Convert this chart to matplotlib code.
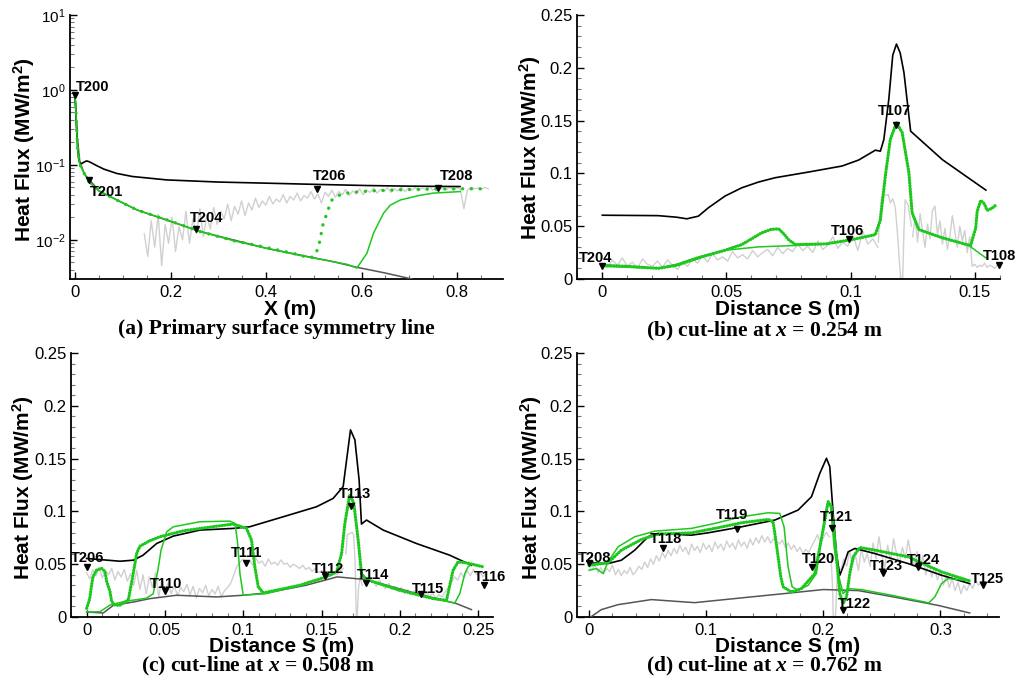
import matplotlib
matplotlib.use('Agg')
import matplotlib.pyplot as plt
import numpy as np
from matplotlib.ticker import MultipleLocator, FuncFormatter, LogLocator

plt.rcParams['font.family'] = ['Liberation Sans', 'DejaVu Sans']
plt.rcParams['mathtext.fontset'] = 'custom'
plt.rcParams['mathtext.rm'] = 'Liberation Serif:bold'
plt.rcParams['mathtext.it'] = 'Liberation Serif:italic:bold'
plt.rcParams['mathtext.sf'] = 'Liberation Sans:bold'

# ---------------- (a) primary surface symmetry line ----------------
a_turb_x = [0, 0.002, 0.004, 0.006, 0.009, 0.013, 0.018, 0.024, 0.03, 0.045, 0.06, 0.087, 0.12, 0.192, 0.3, 0.401, 0.5, 0.611, 0.7, 0.806]
a_turb_y = [0.85, 0.5, 0.25, 0.15, 0.11, 0.103, 0.108, 0.113, 0.11, 0.098, 0.088, 0.077, 0.07, 0.063, 0.059, 0.057, 0.055, 0.053, 0.052, 0.0514]
a_lam_x = [0, 0.004, 0.01, 0.02, 0.05, 0.13, 0.262, 0.401, 0.541, 0.59, 0.65, 0.705]
a_lam_y = [0.85, 0.25, 0.11, 0.075, 0.045, 0.025, 0.0129, 0.0077, 0.0051, 0.0043, 0.0036, 0.0030]
a_tr1_x = [0, 0.002, 0.004, 0.006, 0.009, 0.012, 0.02, 0.03, 0.05, 0.087, 0.13, 0.192, 0.262, 0.33, 0.401, 0.47, 0.541, 0.57, 0.59,
           0.611, 0.625, 0.646, 0.66, 0.681, 0.72, 0.75, 0.806]
a_tr1_y = [0.85, 0.5, 0.25, 0.15, 0.11, 0.095, 0.075, 0.058, 0.045, 0.034, 0.025, 0.0185, 0.0129, 0.0098, 0.0077, 0.0062, 0.0051, 0.0047, 0.0042,
           0.0066, 0.0123, 0.0227, 0.029, 0.034, 0.039, 0.042, 0.044]
a_tr2_x = [0, 0.002, 0.004, 0.006, 0.009, 0.012, 0.02, 0.03, 0.05, 0.087, 0.13, 0.192, 0.262, 0.33, 0.401, 0.47, 0.49, 0.50, 0.505,
           0.51, 0.519, 0.531, 0.538, 0.548, 0.56, 0.58, 0.62, 0.7, 0.8, 0.862]
a_tr2_y = [0.85, 0.5, 0.25, 0.15, 0.11, 0.095, 0.075, 0.058, 0.045, 0.034, 0.025, 0.0185, 0.0129, 0.0098, 0.0079, 0.0063, 0.0057, 0.0060, 0.0068,
           0.0081, 0.0158, 0.0264, 0.034, 0.038, 0.041, 0.043, 0.045, 0.047, 0.048, 0.048]
a_exp_x0, a_exp_x1 = 0.145, 0.865
a_exp_y = [0.012, 0.006, 0.018, 0.008, 0.022, 0.0045, 0.016, 0.009, 0.020, 0.007,
           0.015, 0.010, 0.024, 0.009, 0.019, 0.012, 0.026, 0.011, 0.021, 0.014,
           0.027, 0.016, 0.024, 0.019, 0.030, 0.018, 0.028, 0.022, 0.033, 0.021,
           0.031, 0.025, 0.036, 0.027, 0.033, 0.029, 0.038, 0.030, 0.035, 0.032,
           0.040, 0.031, 0.038, 0.034, 0.042, 0.033, 0.039, 0.036, 0.044, 0.035,
           0.041, 0.031, 0.043, 0.038, 0.046, 0.037, 0.044, 0.040, 0.047, 0.039,
           0.045, 0.041, 0.048, 0.040, 0.046, 0.043, 0.049, 0.042, 0.047, 0.044,
           0.050, 0.043, 0.048, 0.045, 0.051, 0.044, 0.049, 0.046, 0.050, 0.045,
           0.049, 0.047, 0.052, 0.046, 0.050, 0.047, 0.049, 0.047, 0.051, 0.046,
           0.050, 0.047, 0.026, 0.046, 0.050, 0.048, 0.049, 0.047, 0.050, 0.048]
a_tc = ['T200', 'T201', 'T204', 'T206', 'T208']
a_tc_x = [0, 0.030, 0.253, 0.506, 0.760]
a_tc_y = [0.86, 0.063, 0.0139, 0.048, 0.0498]

# ---------------- (b) cut-line x = 0.254 m ----------------
b_turb_x = [0, 0.0225, 0.03, 0.034, 0.0387, 0.0427, 0.0494, 0.0562, 0.0629, 0.0696, 0.0831, 0.0966, 0.1033, 0.11, 0.112, 0.1134, 0.1154,
            0.117, 0.1185, 0.12, 0.1215, 0.1242, 0.137, 0.1464, 0.1545]
b_turb_y = [0.0604, 0.060, 0.0585, 0.057, 0.0595, 0.0674, 0.0785, 0.0864, 0.0918, 0.0959, 0.1013, 0.107, 0.1127, 0.122, 0.121, 0.132, 0.170,
            0.212, 0.2225, 0.214, 0.1956, 0.140, 0.113, 0.0975, 0.0842]
b_tr1_x = [0, 0.0225, 0.03, 0.0387, 0.0494, 0.0629, 0.0763, 0.0898, 0.1006, 0.11, 0.112, 0.114, 0.116, 0.1185, 0.1208, 0.1235, 0.1248, 0.1275, 0.137, 0.1477, 0.1545]
b_tr1_y = [0.012, 0.0101, 0.014, 0.0209, 0.0272, 0.0304, 0.0316, 0.0332, 0.0373, 0.042, 0.056, 0.0975, 0.132, 0.1465, 0.1386, 0.1006, 0.0627, 0.0468, 0.039, 0.0316, 0.020]
b_tr2_x = [0, 0.01, 0.0225, 0.03, 0.04, 0.0494, 0.0562, 0.0642, 0.068, 0.071, 0.073, 0.075, 0.0777, 0.09, 0.1006, 0.11, 0.112, 0.114, 0.116, 0.1185,
           0.1208, 0.1235, 0.1248, 0.1275, 0.137, 0.1484, 0.149, 0.1504, 0.151, 0.1524, 0.1538, 0.155, 0.157, 0.159]
b_tr2_y = [0.013, 0.012, 0.0101, 0.013, 0.0209, 0.0272, 0.0326, 0.0437, 0.047, 0.0475, 0.043, 0.0373, 0.0326, 0.0332, 0.0373, 0.042, 0.056, 0.0975, 0.132, 0.148,
           0.1386, 0.1006, 0.0627, 0.0468, 0.039, 0.0316, 0.037, 0.048, 0.064, 0.0744, 0.0715, 0.065, 0.067, 0.071]
b_exp1_x0, b_exp1_x1 = 0.0, 0.111
b_exp1_y = [0.015, 0.011, 0.018, 0.013, 0.020, 0.012, 0.016, 0.010, 0.019, 0.014,
            0.012, 0.017, 0.011, 0.018, 0.013, 0.009, 0.016, 0.012, 0.019, 0.015,
            0.022, 0.016, 0.024, 0.018, 0.021, 0.017, 0.026, 0.020, 0.023, 0.019,
            0.027, 0.021, 0.025, 0.028, 0.022, 0.030, 0.024, 0.029, 0.026, 0.033,
            0.027, 0.031, 0.025, 0.036, 0.028, 0.032, 0.040, 0.029, 0.035, 0.031,
            0.042, 0.027, 0.045, 0.033, 0.038, 0.030]
b_exp2_x = [0.1112, 0.1118, 0.1125, 0.114, 0.1152, 0.1160, 0.1170, 0.1180, 0.1190, 0.1198, 0.1203, 0.1210, 0.1215, 0.1220, 0.1232, 0.1245]
b_exp2_y = [0.035, 0.060, 0.078, 0.079, 0.080, 0.072, 0.076, 0.068, 0.040, 0.012, 0.0, 0.0, 0.045, 0.075, 0.070, 0.050]
b_exp3_x0, b_exp3_x1 = 0.125, 0.160
b_exp3_y = [0.040, 0.058, 0.035, 0.062, 0.045, 0.030, 0.052, 0.038, 0.065, 0.069, 0.042, 0.055, 0.033, 0.048, 0.028, 0.040, 0.060, 0.045,
            0.030, 0.050, 0.036, 0.046, 0.025, 0.040, 0.012, 0.014, 0.011, 0.013, 0.012, 0.015, 0.011, 0.013, 0.012, 0.010, 0.013, 0.012]
b_tc = ['T204', 'T106', 'T107', 'T108']
b_tc_x = [0, 0.0995, 0.1185, 0.1596]
b_tc_y = [0.0127, 0.038, 0.146, 0.013]

# ---------------- (c) cut-line x = 0.508 m ----------------
c_turb_x = [0, 0.0085, 0.0213, 0.0298, 0.036, 0.0447, 0.0553, 0.0723, 0.0936, 0.104, 0.1255, 0.1468, 0.1574, 0.1638, 0.166, 0.1685, 0.1713, 0.174, 0.1755,
            0.1787, 0.1894, 0.2106, 0.2319, 0.2457]
c_turb_y = [0.0554, 0.0544, 0.0528, 0.0538, 0.0585, 0.0696, 0.0766, 0.0823, 0.0839, 0.0854, 0.0949, 0.1044, 0.1123, 0.1234, 0.1487, 0.1772, 0.1677, 0.1297, 0.088,
            0.0918, 0.0823, 0.0696, 0.0585, 0.049]
c_lam_x = [0, 0.0106, 0.017, 0.0298, 0.0404, 0.0574, 0.083, 0.1, 0.1149, 0.14, 0.16, 0.1787, 0.2106, 0.2362, 0.2457]
c_lam_y = [0.0047, 0.0038, 0.011, 0.0142, 0.0174, 0.0206, 0.019, 0.0206, 0.0228, 0.030, 0.038, 0.0354, 0.0222, 0.0127, 0.007]
c_tr1_x = [0, 0.0085, 0.015, 0.025, 0.038, 0.0425, 0.0455, 0.0475, 0.0511, 0.0553, 0.0723, 0.0915, 0.0947, 0.0962, 0.0979, 0.1, 0.1149, 0.136, 0.153,
           0.1596, 0.1628, 0.1649, 0.168, 0.1706, 0.1734, 0.1755, 0.1787, 0.2, 0.2213, 0.2351, 0.2383, 0.2415, 0.2436, 0.2457]
c_tr1_y = [0.0047, 0.0050, 0.0114, 0.015, 0.0177, 0.022, 0.0443, 0.0633, 0.0807, 0.0854, 0.0902, 0.0908, 0.0886, 0.0728, 0.0411, 0.0206, 0.0222, 0.030, 0.038,
           0.0427, 0.060, 0.0886, 0.114, 0.1076, 0.0728, 0.0411, 0.0354, 0.0253, 0.0174, 0.0133, 0.0222, 0.0411, 0.0475, 0.050]
c_tr2_x = [0, 0.002, 0.003, 0.004, 0.0064, 0.0096, 0.0117, 0.0128, 0.0149, 0.016, 0.018, 0.021, 0.0266, 0.029, 0.032, 0.034, 0.04, 0.0468, 0.0617,
           0.083, 0.0936, 0.1021, 0.1053, 0.1074, 0.1096, 0.1128, 0.136, 0.153, 0.1596, 0.1628, 0.1649, 0.168, 0.1706, 0.1734, 0.1755, 0.1787,
           0.2, 0.2213, 0.2298, 0.2319, 0.234, 0.2372, 0.2426, 0.2532]
c_tr2_y = [0.0082, 0.0177, 0.0287, 0.038, 0.0445, 0.046, 0.043, 0.0335, 0.024, 0.0145, 0.0114, 0.011, 0.016, 0.035, 0.0605, 0.067, 0.072, 0.076, 0.0816,
           0.086, 0.088, 0.0839, 0.0728, 0.0475, 0.0285, 0.0228, 0.030, 0.038, 0.0427, 0.060, 0.0886, 0.116, 0.108, 0.0728, 0.0411, 0.0354,
           0.0253, 0.0174, 0.0158, 0.030, 0.0443, 0.0522, 0.0513, 0.0475]
c_exp1_x0, c_exp1_x1 = 0.0, 0.164
c_exp1_y = [0.042, 0.036, 0.045, 0.039, 0.047, 0.037, 0.044, 0.040, 0.046, 0.035,
            0.043, 0.038, 0.045, 0.034, 0.041, 0.030, 0.044, 0.026, 0.040, 0.022,
            0.038, 0.028, 0.042, 0.019, 0.035, 0.025, 0.032, 0.022, 0.030, 0.020,
            0.028, 0.024, 0.031, 0.021, 0.029, 0.018, 0.027, 0.023, 0.030, 0.020,
            0.026, 0.022, 0.029, 0.019, 0.025, 0.028, 0.032, 0.040, 0.048, 0.052,
            0.055, 0.050, 0.054, 0.049, 0.056, 0.051, 0.053, 0.048, 0.055, 0.050,
            0.052, 0.049, 0.054, 0.050, 0.051, 0.047, 0.050, 0.048, 0.046, 0.049,
            0.045, 0.047, 0.043, 0.046, 0.042, 0.044, 0.040, 0.043, 0.039, 0.042,
            0.040, 0.044, 0.046]
c_exp2_x = [0.1655, 0.1665, 0.168, 0.1695, 0.1705, 0.1715, 0.1722, 0.1728, 0.1735, 0.1745, 0.176]
c_exp2_y = [0.060, 0.078, 0.079, 0.080, 0.078, 0.050, 0.0, 0.0, 0.025, 0.038, 0.030]
c_exp3_x0, c_exp3_x1 = 0.177, 0.255
c_exp3_y = [0.036, 0.031, 0.038, 0.033, 0.029, 0.035, 0.030, 0.027, 0.032, 0.026,
            0.029, 0.024, 0.028, 0.022, 0.026, 0.021, 0.025, 0.020, 0.024, 0.019,
            0.023, 0.020, 0.022, 0.018, 0.021, 0.019, 0.024, 0.028, 0.033, 0.038,
            0.035, 0.042, 0.037, 0.044, 0.039, 0.045, 0.040, 0.043, 0.038, 0.041]
c_tc = ['T206', 'T110', 'T111', 'T112', 'T113', 'T114', 'T115', 'T116']
c_tc_x = [0, 0.05, 0.1015, 0.152, 0.169, 0.1787, 0.2132, 0.2536]
c_tc_y = [0.0475, 0.0247, 0.0513, 0.0386, 0.105, 0.0323, 0.0222, 0.030]

# ---------------- (d) cut-line x = 0.762 m ----------------
d_turb_x = [0, 0.0162, 0.0276, 0.039, 0.0504, 0.0589, 0.0874, 0.1016, 0.1301, 0.1586, 0.1785, 0.1899, 0.197, 0.2027, 0.2055, 0.2084, 0.2112, 0.2141,
            0.2169, 0.2212, 0.2269, 0.244, 0.2724, 0.3009, 0.325]
d_turb_y = [0.0513, 0.0506, 0.0538, 0.0633, 0.076, 0.0791, 0.0775, 0.0797, 0.0854, 0.0918, 0.1013, 0.1139, 0.136, 0.1503, 0.1424, 0.0981, 0.0601, 0.0396,
            0.0475, 0.0617, 0.0649, 0.0601, 0.0506, 0.0396, 0.0316]
d_lam_x = [0.0014, 0.0105, 0.0248, 0.0532, 0.0732, 0.0902, 0.1159, 0.1472, 0.167, 0.20, 0.23, 0.26, 0.298, 0.325]
d_lam_y = [0.0, 0.007, 0.0117, 0.0165, 0.0149, 0.0136, 0.0165, 0.020, 0.0222, 0.026, 0.025, 0.019, 0.011, 0.0038]
d_tr1_x = [0, 0.0063, 0.012, 0.0162, 0.0248, 0.039, 0.0561, 0.0874, 0.1073, 0.1301, 0.1529, 0.1628, 0.1665, 0.1699, 0.1734, 0.1785, 0.187, 0.1941,
           0.1998, 0.2035, 0.2064, 0.2092, 0.2126, 0.2169, 0.2212, 0.2326, 0.2582, 0.2866, 0.29, 0.2952, 0.3009, 0.3066, 0.325]
d_tr1_y = [0.0443, 0.0459, 0.0411, 0.0522, 0.0665, 0.076, 0.0813, 0.0839, 0.0886, 0.0949, 0.0987, 0.0981, 0.0854, 0.0475, 0.0285, 0.0253, 0.030, 0.0411,
           0.0854, 0.1076, 0.1044, 0.0665, 0.0411, 0.0222, 0.0269, 0.0259, 0.0206, 0.0142, 0.0133, 0.019, 0.0316, 0.0364, 0.0342]
d_tr2_x = [0, 0.0162, 0.0276, 0.0447, 0.0589, 0.0874, 0.1073, 0.1301, 0.1529, 0.1571, 0.1586, 0.1614, 0.1637, 0.1657, 0.1728, 0.1813, 0.1927, 0.1998,
           0.2041, 0.2069, 0.2112, 0.2141, 0.2169, 0.2198, 0.2226, 0.2255, 0.2311, 0.244, 0.2724, 0.3009, 0.325]
d_tr2_y = [0.049, 0.0513, 0.0633, 0.0734, 0.0785, 0.0797, 0.0839, 0.0892, 0.0924, 0.0902, 0.0791, 0.057, 0.038, 0.0285, 0.0237, 0.0269, 0.0411, 0.0823,
           0.1092, 0.1044, 0.057, 0.0222, 0.0127, 0.019, 0.0411, 0.057, 0.0658, 0.0633, 0.057, 0.0427, 0.0342]
d_exp1_x0, d_exp1_x1 = 0.0, 0.205
d_exp1_y = [0.048, 0.044, 0.050, 0.042, 0.047, 0.041, 0.046, 0.043, 0.049, 0.040,
            0.045, 0.039, 0.044, 0.041, 0.047, 0.040, 0.043, 0.048, 0.045, 0.052,
            0.047, 0.055, 0.050, 0.058, 0.053, 0.061, 0.056, 0.063, 0.058, 0.065,
            0.060, 0.068, 0.062, 0.066, 0.059, 0.069, 0.063, 0.067, 0.061, 0.070,
            0.064, 0.068, 0.062, 0.071, 0.065, 0.069, 0.063, 0.072, 0.066, 0.070,
            0.064, 0.073, 0.067, 0.071, 0.065, 0.074, 0.068, 0.075, 0.070, 0.077,
            0.071, 0.076, 0.070, 0.074, 0.072, 0.069, 0.073, 0.066, 0.070, 0.064,
            0.068, 0.062, 0.066, 0.060, 0.064, 0.061, 0.067, 0.072, 0.078, 0.070,
            0.075, 0.080, 0.076]
d_exp2_x = [0.2065, 0.2078, 0.2085, 0.2095, 0.2105, 0.2115, 0.2125, 0.2135]
d_exp2_y = [0.060, 0.030, 0.0, 0.0, 0.002, 0.030, 0.050, 0.042]
d_exp3_x0, d_exp3_x1 = 0.215, 0.335
d_exp3_y = [0.045, 0.055, 0.048, 0.062, 0.050, 0.058, 0.044, 0.065, 0.052, 0.060,
            0.048, 0.070, 0.055, 0.076, 0.058, 0.047, 0.068, 0.052, 0.074, 0.060,
            0.050, 0.066, 0.055, 0.073, 0.058, 0.048, 0.062, 0.045, 0.058, 0.040,
            0.052, 0.038, 0.047, 0.035, 0.044, 0.030, 0.040, 0.028, 0.036, 0.025,
            0.033, 0.022, 0.030, 0.025, 0.032, 0.027, 0.035, 0.030, 0.033]
d_tc = ['T208', 'T118', 'T119', 'T120', 'T121', 'T122', 'T123', 'T124', 'T125']
d_tc_x = [0, 0.0632, 0.1267, 0.1904, 0.207, 0.2169, 0.2511, 0.281, 0.3365]
d_tc_y = [0.0513, 0.0649, 0.083, 0.0475, 0.0845, 0.007, 0.0418, 0.0475, 0.030]

# ---------------- styling ----------------
GREEN = '#1ec81e'
BLACK = dict(color='black', lw=1.2, zorder=4)
LAM = dict(color='#555555', lw=1.1, zorder=3)
TR1 = dict(color=GREEN, lw=1.1, zorder=5)
EXP = dict(color='#d0d0d0', lw=1.0, zorder=2)

W, H = 1016, 679
fig = plt.figure(figsize=(W / 100, H / 100), dpi=100)


def make_ax(l, t, r, b):
    return fig.add_axes([l / W, 1 - b / H, (r - l) / W, (b - t) / H])


def style(ax, ysize=12):
    for s in ['top', 'right']:
        ax.spines[s].set_visible(False)
    for s in ['left', 'bottom']:
        ax.spines[s].set_linewidth(1.3)
    ax.tick_params(which='major', direction='in', length=5, width=1.0, labelsize=12, pad=3)
    ax.tick_params(which='minor', direction='in', length=3, width=0.8, color='#777777')
    ax.tick_params(axis='x', which='major', pad=4)
    ax.tick_params(axis='y', which='major', labelsize=ysize)


fmt = FuncFormatter(lambda v, p: '%g' % round(v, 6))


def dotted(ax, x, y, gap):
    ax.plot(x, y, color=GREEN, lw=2.4, ls=(0, (0.05, gap)), dash_capstyle='round', zorder=6)


def marks(ax, names, xs, ys, offs):
    ax.plot(xs, ys, 'v', color='black', ms=5, zorder=8, clip_on=False)
    for n, x, y, o in zip(names, xs, ys, offs):
        ax.annotate(n, (x, y), xytext=o, textcoords='offset points', ha='center', va='center',
                    fontsize=10.5, fontweight='bold', zorder=9)


def labels(xl, yl, cap, xlab):
    fig.text(yl[0] / W, 1 - yl[1] / H, r'Heat Flux (MW/m$^{\mathsf{2}}$)', rotation=90, ha='center', va='center',
             fontsize=15, fontweight='bold')
    fig.text(xl[0] / W, 1 - xl[1] / H, xlab, ha='center', va='center', fontsize=15, fontweight='bold')
    fig.text(cap[1] / W, 1 - cap[2] / H, cap[0], ha='center', va='center', fontsize=15.5,
             family='Liberation Serif', fontweight='bold')


# (a)
ax = make_ax(70, 15, 503, 279)
ax.plot(np.linspace(a_exp_x0, a_exp_x1, len(a_exp_y)), a_exp_y, **EXP)
ax.plot(a_lam_x, a_lam_y, **LAM)
ax.plot(a_turb_x, a_turb_y, **BLACK)
ax.plot(a_tr1_x, a_tr1_y, **TR1)
dotted(ax, a_tr2_x, a_tr2_y, 2.6)
ax.set_yscale('log')
ax.set_ylim(0.003, 10)
ax.set_xlim(-0.0105, 0.896)
ax.xaxis.set_major_locator(MultipleLocator(0.2))
ax.xaxis.set_minor_locator(MultipleLocator(0.05))
ax.xaxis.set_major_formatter(fmt)
ax.yaxis.set_minor_locator(LogLocator(subs=np.arange(2, 10)))
style(ax, ysize=11)
marks(ax, a_tc, a_tc_x, a_tc_y, [(13, 5.5), (12, -9), (7.7, 7.9), (9, 9.4), (13, 8.4)])
labels((290, 310), (24, 150), ('(a) Primary surface symmetry line', 276, 329), 'X (m)')

# (b)
ax = make_ax(577, 15, 1000, 279)
ax.plot(np.linspace(b_exp1_x0, b_exp1_x1, len(b_exp1_y)), b_exp1_y, **EXP)
ax.plot(b_exp2_x, b_exp2_y, **EXP)
ax.plot(np.linspace(b_exp3_x0, b_exp3_x1, len(b_exp3_y)), b_exp3_y, **EXP)
ax.plot(b_turb_x, b_turb_y, **BLACK)
ax.plot(b_tr1_x, b_tr1_y, **TR1)
dotted(ax, b_tr2_x, b_tr2_y, 0.8)
ax.set_ylim(0, 0.25)
ax.set_xlim(-0.0102, 0.1602)
ax.xaxis.set_major_locator(MultipleLocator(0.05))
ax.xaxis.set_minor_locator(MultipleLocator(0.01))
ax.yaxis.set_major_locator(MultipleLocator(0.05))
ax.yaxis.set_minor_locator(MultipleLocator(0.01))
ax.xaxis.set_major_formatter(fmt)
ax.yaxis.set_major_formatter(fmt)
style(ax)
marks(ax, b_tc, b_tc_x, b_tc_y, [(-4.6, 5.5), (-1.2, 6), (-1.2, 9.6), (0.5, 6.5)])
labels((788, 310), (530, 148), ('(b) cut-line at $x$ = 0.254 m', 764, 331), 'Distance S (m)')

# (c)
ax = make_ax(71, 353, 493, 617)
ax.plot(np.linspace(c_exp1_x0, c_exp1_x1, len(c_exp1_y)), c_exp1_y, **EXP)
ax.plot(c_exp2_x, c_exp2_y, **EXP)
ax.plot(np.linspace(c_exp3_x0, c_exp3_x1, len(c_exp3_y)), c_exp3_y, **EXP)
ax.plot(c_lam_x, c_lam_y, **LAM)
ax.plot(c_turb_x, c_turb_y, **BLACK)
ax.plot(c_tr1_x, c_tr1_y, **TR1)
dotted(ax, c_tr2_x, c_tr2_y, 0.8)
ax.set_ylim(0, 0.25)
ax.set_xlim(-0.01, 0.2595)
ax.xaxis.set_major_locator(MultipleLocator(0.05))
ax.xaxis.set_minor_locator(MultipleLocator(0.01))
ax.yaxis.set_major_locator(MultipleLocator(0.05))
ax.yaxis.set_minor_locator(MultipleLocator(0.01))
ax.xaxis.set_major_formatter(fmt)
ax.yaxis.set_major_formatter(fmt)
style(ax)
marks(ax, c_tc, c_tc_x, c_tc_y, [(0.7, 6.7), (0.5, 4.8), (0.7, 7.2), (2.4, 5.5), (2.4, 8.6), (4.8, 5.5), (5.5, 3.6), (4.8, 6)])
labels((282, 647), (23, 488), ('(c) cut-line at $x$ = 0.508 m', 258, 666), 'Distance S (m)')

# (d)
ax = make_ax(577, 353, 999, 617)
ax.plot(np.linspace(d_exp1_x0, d_exp1_x1, len(d_exp1_y)), d_exp1_y, **EXP)
ax.plot(d_exp2_x, d_exp2_y, **EXP)
ax.plot(np.linspace(d_exp3_x0, d_exp3_x1, len(d_exp3_y)), d_exp3_y, **EXP)
ax.plot(d_lam_x, d_lam_y, **LAM)
ax.plot(d_turb_x, d_turb_y, **BLACK)
ax.plot(d_tr1_x, d_tr1_y, **TR1)
dotted(ax, d_tr2_x, d_tr2_y, 0.8)
ax.set_ylim(0, 0.25)
ax.set_xlim(-0.0103, 0.350)
ax.xaxis.set_major_locator(MultipleLocator(0.1))
ax.xaxis.set_minor_locator(MultipleLocator(0.02))
ax.yaxis.set_major_locator(MultipleLocator(0.05))
ax.yaxis.set_minor_locator(MultipleLocator(0.01))
ax.xaxis.set_major_formatter(fmt)
ax.yaxis.set_major_formatter(fmt)
style(ax)
marks(ax, d_tc, d_tc_x, d_tc_y, [(3.6, 3.8), (2.4, 6.5), (-3.8, 10.3), (4.3, 6), (3.6, 7.9), (7.9, 3.8), (2.4, 4.8), (3.6, 4.8), (2.9, 4.8)])
labels((788, 647), (531, 488), ('(d) cut-line at $x$ = 0.762 m', 764, 666), 'Distance S (m)')

fig.savefig('out.png', dpi=100)
